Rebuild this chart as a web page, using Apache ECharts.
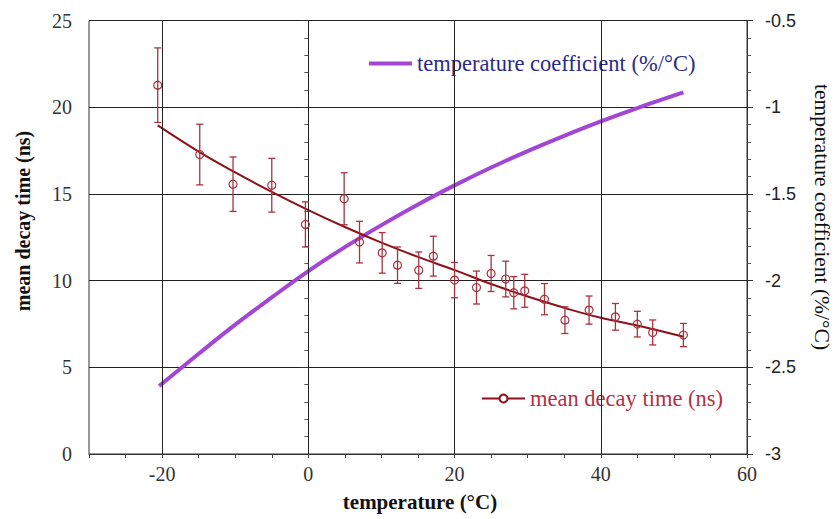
<!DOCTYPE html>
<html>
<head>
<meta charset="utf-8">
<script src="https://cdn.jsdelivr.net/npm/echarts@6/dist/echarts.min.js"></script>
<style>
html,body{margin:0;padding:0;background:#fff;}
#chart{width:837px;height:519px;}
</style>
</head>
<body>
<div id="chart"></div>
<script>
// measured data points (temperature °C) with mean decay time (ns) and error (ns)
var pointTemps = [-20.6, -14.85, -10.3, -5.0, -0.4, 4.9, 7.0, 10.1, 12.2, 15.1, 17.1, 20.0, 23.0, 25.0, 27.0, 28.1, 29.6, 32.3, 35.1, 38.4, 42.0, 45.0, 47.1, 51.3];
var pointDecay = [21.27, 17.27, 15.56, 15.5, 13.24, 14.72, 12.22, 11.6, 10.89, 10.6, 11.41, 10.03, 9.6, 10.41, 10.09, 9.3, 9.41, 8.93, 7.72, 8.3, 7.91, 7.49, 7.01, 6.86];
var pointError = [2.15, 1.75, 1.57, 1.55, 1.3, 1.5, 1.2, 1.17, 1.05, 1.05, 1.15, 1.02, 0.95, 1.04, 1.03, 0.93, 0.95, 0.9, 0.77, 0.81, 0.77, 0.74, 0.72, 0.67];

// fitted decay time curve
var fitTemps = [-20.6, -15, -10, -5, 0, 5, 10, 15, 20, 25, 30, 35, 40, 45, 51.3];
var fitDecay = [18.95, 17.44, 16.24, 15.115, 14.065, 13.09, 12.19, 11.365, 10.605, 9.805, 9.08, 8.43, 7.855, 7.405, 6.76];

// temperature coefficient curve (%/°C), right axis
var coefTemps = [-20.4, -15, -10, -5, 0, 5, 10, 15, 20, 25, 30, 35, 40, 45, 51.3];
var coefValues = [-2.608, -2.422, -2.254, -2.097, -1.945, -1.807, -1.68, -1.561, -1.451, -1.348, -1.253, -1.165, -1.082, -1.005, -0.915];

// axis tick labels / grid positions
var xLabelStep = 20;
var xGridLines = [-20, 0, 20, 40];

var NAME_DECAY = 'mean decay time (ns)';
var NAME_COEF = 'temperature coefficient (%/°C)';

var RED_LINE = '#8e1018';
var RED_PT = '#a8323e';
var PURPLE = '#a246d4';
var SERIF = '"Liberation Serif", "DejaVu Serif", serif';
var SANS = '"Liberation Sans", Arial, sans-serif';

function zip2(a, b) { return a.map(function (v, i) { return [v, b[i]]; }); }

var chart = echarts.init(document.getElementById('chart'), null, { renderer: 'svg' });

var option = {
  animation: false,
  backgroundColor: '#fff',
  grid: { left: 89, right: 90, top: 20.5, bottom: 65, show: true, borderColor: '#333', borderWidth: 1, backgroundColor: 'transparent' },
  legend: [
    {
      data: [{ name: NAME_COEF, icon: 'rect' }],
      left: 369, top: 52, itemWidth: 43, itemHeight: 4, selectedMode: false, padding: 0,
      textStyle: { fontFamily: SERIF, fontSize: 22.5, color: '#2b2b86' }
    },
    {
      data: [NAME_DECAY],
      left: 481, top: 387, itemWidth: 43, itemHeight: 10, selectedMode: false, padding: 0,
      textStyle: { fontFamily: SERIF, fontSize: 22.5, color: '#b4303f' }
    }
  ],
  xAxis: {
    type: 'value', min: -30, max: 60, interval: 5,
    axisLine: { lineStyle: { color: '#333', width: 1 } },
    axisTick: { show: true, length: 4, lineStyle: { color: '#444' } },
    axisLabel: {
      margin: 10, fontFamily: SERIF, fontSize: 20, color: '#333',
      formatter: function (v) { return (Math.round(v) % xLabelStep === 0) ? String(Math.round(v)) : ''; }
    },
    splitLine: { show: false }
  },
  yAxis: [
    {
      type: 'value', min: 0, max: 25, interval: 5, position: 'left',
      axisLine: { show: true, lineStyle: { color: '#333', width: 1 } },
      axisTick: { show: true, length: 8, lineStyle: { color: '#333' } },
      minorTick: { show: true, splitNumber: 5, length: 4, lineStyle: { color: '#555' } },
      axisLabel: { margin: 17, fontFamily: SERIF, fontSize: 20, color: '#333' },
      splitLine: { show: true, lineStyle: { color: '#222', width: 1 } }
    },
    {
      type: 'value', min: -3, max: -0.5, interval: 0.5, position: 'right',
      axisLine: { show: true, lineStyle: { color: '#333', width: 1 } },
      axisTick: { show: true, length: 6, lineStyle: { color: '#333' } },
      minorTick: { show: true, splitNumber: 5, length: 4, lineStyle: { color: '#555' } },
      axisLabel: { margin: 18, fontFamily: SANS, fontSize: 18, color: '#222' },
      splitLine: { show: false }
    }
  ],
  graphic: [
    { type: 'text', x: 23, y: 221, rotation: Math.PI / 2,
      style: { text: 'mean decay time (ns)', font: 'bold 20px ' + SERIF, fill: '#111', align: 'center', verticalAlign: 'middle', textAlign: 'center', textVerticalAlign: 'middle' } },
    { type: 'text', x: 822, y: 217, rotation: -Math.PI / 2,
      style: { text: 'temperature coefficient (%/°C)', font: '21.5px ' + SERIF, fill: '#111', align: 'center', verticalAlign: 'middle', textAlign: 'center', textVerticalAlign: 'middle' } },
    { type: 'text', x: 420, y: 502,
      style: { text: 'temperature (°C)', font: 'bold 21px ' + SERIF, fill: '#111', align: 'center', verticalAlign: 'middle', textAlign: 'center', textVerticalAlign: 'middle' } }
  ],
  series: [
    {
      name: 'grid-x', type: 'line', data: [], z: 1, silent: true,
      markLine: {
        silent: true, symbol: 'none', label: { show: false },
        lineStyle: { color: '#222', width: 1, type: 'solid' },
        data: xGridLines.map(function (v) { return { xAxis: v }; })
      }
    },
    {
      name: NAME_COEF, type: 'line', yAxisIndex: 1, data: zip2(coefTemps, coefValues),
      smooth: 0.4, showSymbol: false, symbol: 'none', z: 3,
      lineStyle: { color: PURPLE, width: 4 }, itemStyle: { color: PURPLE }
    },
    {
      name: NAME_DECAY, type: 'line', yAxisIndex: 0, data: zip2(fitTemps, fitDecay),
      smooth: 0.4, showSymbol: false, symbol: 'emptyCircle', symbolSize: 8, z: 4,
      lineStyle: { color: RED_LINE, width: 2 }, itemStyle: { color: RED_LINE }
    },
    {
      name: 'points', type: 'custom', yAxisIndex: 0, z: 5,
      data: pointTemps.map(function (t, i) { return [t, pointDecay[i], pointError[i]]; }),
      encode: { x: 0, y: 1 },
      renderItem: function (params, api) {
        var x = api.value(0), y = api.value(1), e = api.value(2);
        var c = api.coord([x, y]);
        var hi = api.coord([x, y + e]);
        var lo = api.coord([x, y - e]);
        var cap = 3.5;
        var st = { stroke: RED_PT, lineWidth: 1.3, fill: 'none' };
        return {
          type: 'group',
          children: [
            { type: 'line', shape: { x1: c[0], y1: hi[1], x2: c[0], y2: lo[1] }, style: st },
            { type: 'line', shape: { x1: c[0] - cap, y1: hi[1], x2: c[0] + cap, y2: hi[1] }, style: st },
            { type: 'line', shape: { x1: c[0] - cap, y1: lo[1], x2: c[0] + cap, y2: lo[1] }, style: st },
            { type: 'circle', shape: { cx: c[0], cy: c[1], r: 4 }, style: { stroke: RED_PT, lineWidth: 1.2, fill: 'none' } }
          ]
        };
      }
    }
  ]
};

chart.setOption(option);
</script>
</body>
</html>
